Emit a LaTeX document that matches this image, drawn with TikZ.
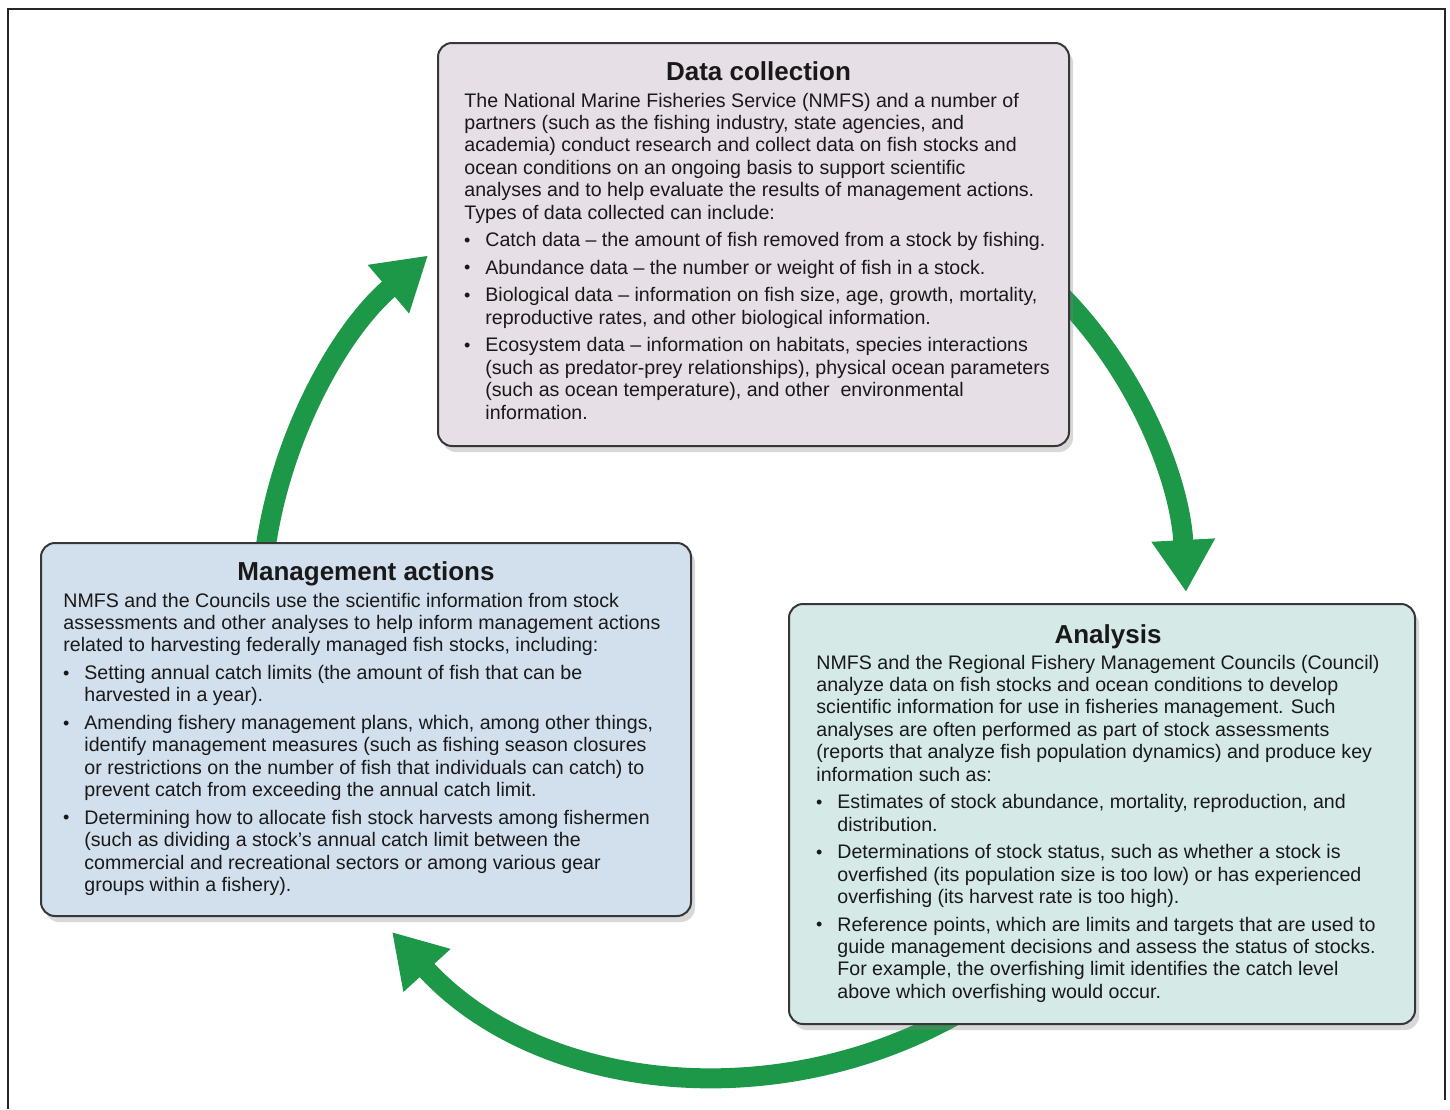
\documentclass[tikz,border=0pt]{standalone}
\usepackage{fontspec}
\setmainfont{Liberation Sans}
\usepackage{tikz}
\usetikzlibrary{arrows.meta,shadows}

\definecolor{arrowgreen}{RGB}{28,152,72}
\definecolor{boxline}{RGB}{55,55,55}
\definecolor{datafill}{RGB}{230,223,229}
\definecolor{mgmtfill}{RGB}{210,223,237}
\definecolor{analysisfill}{RGB}{213,233,231}
\definecolor{textcol}{RGB}{25,25,25}

\pgfdeclarelayer{background}
\pgfsetlayers{background,main}

\tikzstyle{infobox} = [draw=boxline, line width=1pt, rectangle, rounded corners=7pt,
    inner sep=0pt, anchor=north west,
    drop shadow={shadow xshift=2pt, shadow yshift=-3pt, opacity=0.3}]
\tikzstyle{boxtitle} = [anchor=base, inner sep=0pt, text=textcol,
    font=\fontsize{13pt}{15pt}\selectfont\bfseries]
\tikzstyle{boxtext} = [anchor=base west, inner sep=0pt, text=textcol,
    font=\fontsize{9.8pt}{11.2pt}\selectfont]
\tikzstyle{cyclearrow} = [draw=arrowgreen, line width=10pt,
    -{Triangle[width=30pt,length=26pt]}]

% bullet line with hanging indent (break lines inside with \newline)
\newcommand{\bitem}{\par\hangindent=10.5pt\hangafter=1\noindent
    \makebox[10.5pt][l]{\hspace{-0.2pt}\raisebox{0.2pt}{\fontsize{9pt}{9pt}\selectfont\textbullet}}}

\begin{document}
\begin{tikzpicture}[x=0.5pt, y=-0.5pt]
    \useasboundingbox (0,0) rectangle (1450,1109);
    % outer frame, open at the bottom
    \draw[black!85, line width=1pt] (8,1109) -- (8,9) -- (1445,9) -- (1445,1100);

    \node [infobox, fill=datafill, minimum width=315.5pt, minimum height=201.5pt]
        (data) at (437,42) {};
    \node [infobox, fill=mgmtfill, minimum width=325pt, minimum height=186.5pt]
        (mgmt) at (40,542) {};
    \node [infobox, fill=analysisfill, minimum width=313pt, minimum height=210pt]
        (analysis) at (788,603) {};

    % the cycle, tucked in under the boxes
    \begin{pgfonlayer}{background}
        \fill[white] (0,0) rectangle (1450,1109);
        \draw [cyclearrow] ([shift={(-13,47)}]data.east)
            .. controls +(80,79) and +(-6,-113) .. ([shift={(84,-11)}]analysis.north);
        \draw [cyclearrow] ([shift={(-141,-13)}]analysis.south)
            .. controls +(-186,107) and +(145,159) .. ([shift={(-300,15)}]mgmt.south east);
        \draw [cyclearrow] ([shift={(-100,3)}]mgmt.north)
            .. controls +(17,-113) and +(-87,74) .. ([shift={(-9,11)}]data.west);
    \end{pgfonlayer}

    \node [boxtitle] (datatitle) at ([shift={(5,38)}]data.north) {Data collection};
    \node [boxtext] (databody) at ([shift={(27,65)}]data.north west) {%
        \begin{minipage}[t]{320pt}
        \raggedright\setlength{\parskip}{2.6pt}%
        \noindent The National Marine Fisheries Service (NMFS) and a number of\\
        partners (such as the fishing industry, state agencies, and\\
        academia) conduct research and collect data on fish stocks and\\
        ocean conditions on an ongoing basis to support scientific\\
        analyses and to help evaluate the results of management actions.\\
        Types of data collected can include:
        \bitem Catch data -- the amount of fish removed from a stock by fishing.
        \bitem Abundance data -- the number or weight of fish in a stock.
        \bitem Biological data -- information on fish size, age, growth, mortality,\newline
            reproductive rates, and other biological information.
        \bitem Ecosystem data -- information on habitats, species interactions\newline
            (such as predator-prey relationships), physical ocean parameters\newline
            (such as ocean temperature), and other\ \ environmental\newline
            information.
        \end{minipage}
    };

    \node [boxtitle] (mgmttitle) at ([shift={(0,38)}]mgmt.north) {Management actions};
    \node [boxtext] (mgmtbody) at ([shift={(23,65)}]mgmt.north west) {%
        \begin{minipage}[t]{320pt}
        \raggedright\setlength{\parskip}{2.6pt}%
        \noindent NMFS and the Councils use the scientific information from stock\\
        assessments and other analyses to help inform management actions\\
        related to harvesting federally managed fish stocks, including:
        \bitem Setting annual catch limits (the amount of fish that can be\newline
            harvested in a year).
        \bitem Amending fishery management plans, which, among other things,\newline
            identify management measures (such as fishing season closures\newline
            or restrictions on the number of fish that individuals can catch) to\newline
            prevent catch from exceeding the annual catch limit.
        \bitem Determining how to allocate fish stock harvests among fishermen\newline
            (such as dividing a stock's annual catch limit between the\newline
            commercial and recreational sectors or among various gear\newline
            groups within a fishery).
        \end{minipage}
    };

    \node [boxtitle] (analysistitle) at ([shift={(6,40)}]analysis.north) {Analysis};
    \node [boxtext] (analysisbody) at ([shift={(28,66)}]analysis.north west) {%
        \begin{minipage}[t]{320pt}
        \raggedright\setlength{\parskip}{2.6pt}%
        \noindent NMFS and the Regional Fishery Management Councils (Council)\\
        analyze data on fish stocks and ocean conditions to develop\\
        scientific information for use in fisheries management. Such\\
        analyses are often performed as part of stock assessments\\
        (reports that analyze fish population dynamics) and produce key\\
        information such as:
        \bitem Estimates of stock abundance, mortality, reproduction, and\newline
            distribution.
        \bitem Determinations of stock status, such as whether a stock is\newline
            overfished (its population size is too low) or has experienced\newline
            overfishing (its harvest rate is too high).
        \bitem Reference points, which are limits and targets that are used to\newline
            guide management decisions and assess the status of stocks.\newline
            For example, the overfishing limit identifies the catch level\newline
            above which overfishing would occur.
        \end{minipage}
    };
\end{tikzpicture}
\end{document}
